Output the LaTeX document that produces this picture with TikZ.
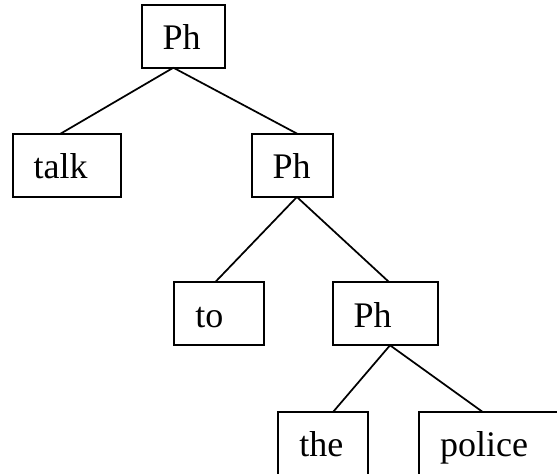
\documentclass[tikz,border=0pt]{standalone}
\usepackage{fontspec}
\setmainfont{Liberation Serif}
\begin{document}
\begin{tikzpicture}[x=0.75pt, y=-0.75pt,
  wbox/.style={draw, rectangle, line width=1.3pt, outer sep=0pt,
    inner xsep=15.75pt, inner ysep=0pt, minimum height=47.25pt,
    text height=20.25pt, text depth=0pt, align=left, anchor=north west,
    font=\fontsize{27pt}{32pt}\selectfont},
  edge/.style={line width=1.3pt}]
\useasboundingbox (0,0) rectangle (557,474);
\fill[white] (0,0) rectangle (557,474);
\clip (0,0) rectangle (557,474);

% phrase boxes
\node[wbox, text width=31pt]   (top)    at (141.7,4.7)   {Ph};
\node[wbox, text width=49.5pt] (talk)   at (12.7,134)    {talk};
\node[wbox, text width=29.7pt] (mid)    at (251.7,134)   {Ph};
\node[wbox, text width=36pt]   (to)     at (174.3,282.3) {to};
\node[wbox, text width=47.7pt] (low)    at (332.7,282.3) {Ph};
\node[wbox, text width=36pt]   (the)    at (278.3,411.7) {the};
\node[wbox, text width=81pt]   (police) at (419,411.7)   {police};

% branches
\draw[edge] ([xshift=-7.5pt]top.south) -- ([xshift=-5pt]talk.north);
\draw[edge] ([xshift=-7.5pt]top.south) -- ([xshift=3.9pt]mid.north);
\draw[edge] ([xshift=3.3pt]mid.south) -- ([xshift=-3.2pt]to.north);
\draw[edge] ([xshift=3.3pt]mid.south) -- ([xshift=2.85pt]low.north);
\draw[edge] ([xshift=3.4pt]low.south) -- ([xshift=7.5pt]the.north);
\draw[edge] ([xshift=3.4pt]low.south) -- ([xshift=47.5pt]police.north west);
\end{tikzpicture}
\end{document}
